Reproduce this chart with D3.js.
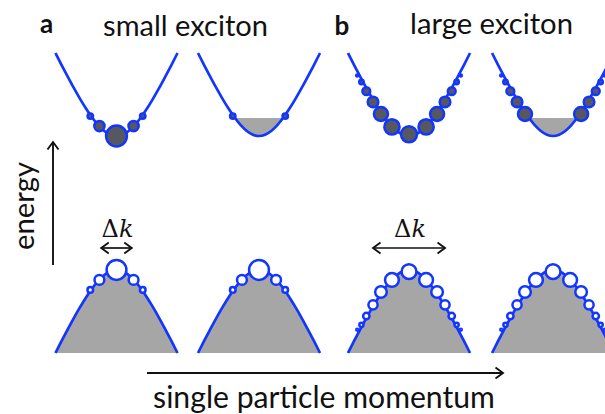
<!DOCTYPE html>
<html>
<head>
<meta charset="utf-8">
<script src="https://cdn.jsdelivr.net/npm/d3@7"></script>
<style>
  html, body { margin: 0; padding: 0; background: #fff; }
  svg { display: block; }
</style>
</head>
<body>
<svg id="fig" width="605" height="414"></svg>
<script>
// Band dispersion, normalised: 0 at the band edge, 1 at the end of the drawn band
const bandK = [-1, -0.9, -0.8, -0.7, -0.6, -0.5, -0.4, -0.3, -0.2, -0.1, 0,
               0.1, 0.2, 0.3, 0.4, 0.5, 0.6, 0.7, 0.8, 0.9, 1];
const bandE = [1, 0.855, 0.715, 0.579, 0.451, 0.331, 0.223, 0.132, 0.061, 0.016, 0,
               0.016, 0.061, 0.132, 0.223, 0.331, 0.451, 0.579, 0.715, 0.855, 1];

// Conduction band minimum above the valence band maximum, and the filled level
const bandGap = 1.614;
const fermiLevel = 0.217;

// Four band diagrams along the momentum axis
const panelCentres = [0, 2.336, 4.795, 7.156];
const panelExciton = ["small", "small", "large", "large"];
const panelFilled = [false, true, false, true];

const groupLetters = ["a", "b"];
const groupTitles = ["small exciton", "large exciton"];

// Exciton components: momentum, energy from the band edge, weight (circle radius)
const smallK     = [-0.43, -0.28, 0, 0.28, 0.43];
const smallCondE = [0.24, 0.12, 0, 0.12, 0.24];
const smallCondR = [2.7, 5.1, 10.4, 5.1, 2.7];
const smallValE  = [0.24, 0.12, 0, 0.12, 0.24];
const smallValR  = [2.8, 4.9, 9.9, 4.9, 2.8];

const largeK     = [-0.85, -0.78, -0.70, -0.59, -0.46, -0.28, 0, 0.28, 0.46, 0.59, 0.70, 0.78, 0.85];
const largeCondE = [0.73, 0.65, 0.54, 0.41, 0.265, 0.11, 0.02, 0.11, 0.265, 0.41, 0.54, 0.65, 0.73];
const largeCondR = [1.0, 2.2, 3.9, 5.3, 7.0, 7.6, 8.0, 7.6, 7.0, 5.3, 3.9, 2.2, 1.0];
const largeValE  = [0.72, 0.66, 0.555, 0.42, 0.265, 0.12, 0.02, 0.12, 0.265, 0.42, 0.555, 0.66, 0.72];
const largeValR  = [0.9, 2.1, 3.2, 4.6, 5.8, 6.9, 7.4, 6.9, 5.8, 4.6, 3.2, 2.1, 0.9];

// Momentum spread of each exciton
const deltaK = [0.5, 1.18];

const excitons = {
  small: { k: smallK, condE: smallCondE, condR: smallCondR, valE: smallValE, valR: smallValR },
  large: { k: largeK, condE: largeCondE, condR: largeCondR, valE: largeValE, valR: largeValR }
};

const BLUE = "#1236ff";
const DARK = "#55585f";
const GREY = "#a6a6a6";

const svg = d3.select("#fig");

const x = d3.scaleLinear().domain([-1, 8.16]).range([55.5, 614.3]);
const y = d3.scaleLinear().domain([-1, bandGap + 1]).range([353, 53]);

const band = bandK.map((k, i) => ({ k, e: bandE[i] }));

const defs = svg.append("defs");

panelCentres.forEach((c, i) => {
  const g = svg.append("g");
  const px = k => x(c + k);
  const ex = excitons[panelExciton[i]];

  // valence band: filled below the dispersion
  g.append("path")
    .datum(band)
    .attr("fill", GREY)
    .attr("d", d3.area().curve(d3.curveMonotoneX)
      .x(d => px(d.k)).y0(y(-1)).y1(d => y(-d.e)));
  g.append("path")
    .datum(band)
    .attr("fill", "none").attr("stroke", BLUE).attr("stroke-width", 2.7)
    .attr("d", d3.line().curve(d3.curveMonotoneX)
      .x(d => px(d.k)).y(d => y(-d.e)));

  // conduction band: occupied states up to the filled level
  if (panelFilled[i]) {
    const id = "cb" + i;
    defs.append("clipPath").attr("id", id)
      .append("path").datum(band)
      .attr("d", d3.area().curve(d3.curveMonotoneX)
        .x(d => px(d.k)).y0(y(bandGap + 1)).y1(d => y(bandGap + d.e)));
    g.append("rect")
      .attr("clip-path", `url(#${id})`)
      .attr("x", px(-1)).attr("width", px(1) - px(-1))
      .attr("y", y(bandGap + fermiLevel))
      .attr("height", y(bandGap - 0.1) - y(bandGap + fermiLevel))
      .attr("fill", GREY);
  }
  g.append("path")
    .datum(band)
    .attr("fill", "none").attr("stroke", BLUE).attr("stroke-width", 2.7)
    .attr("d", d3.line().curve(d3.curveMonotoneX)
      .x(d => px(d.k)).y(d => y(bandGap + d.e)));

  // hole components in the valence band
  g.selectAll("circle.hole")
    .data(ex.k.map((k, j) => ({ k, e: ex.valE[j], r: ex.valR[j] })))
    .join("circle").attr("class", "hole")
    .attr("cx", d => px(d.k)).attr("cy", d => y(-d.e)).attr("r", d => d.r)
    .attr("fill", "#fff").attr("stroke", BLUE).attr("stroke-width", 2.5);

  // electron components in the conduction band (blocked below the filled level)
  const elec = ex.k.map((k, j) => ({ k, e: ex.condE[j], r: ex.condR[j] }))
    .filter(d => !panelFilled[i] || d.e > fermiLevel);
  g.selectAll("circle.elec")
    .data(elec)
    .join("circle").attr("class", "elec")
    .attr("cx", d => px(d.k)).attr("cy", d => y(bandGap + d.e)).attr("r", d => d.r)
    .attr("fill", DARK).attr("stroke", BLUE).attr("stroke-width", 2.5);
});

// fit a label to a given width
function fitWidth(sel, w) {
  const fs = parseFloat(sel.attr("font-size"));
  const L = sel.node().getComputedTextLength();
  if (L > 0) sel.attr("font-size", fs * w / L);
  return sel;
}

const SANS = "Lato, 'Open Sans', sans-serif";

// group letters and titles
const letterX = [46.5, 342];
const letterY = [33, 35];
const titleX = [185.5, 491.5];
const titleY = [36, 34];
const titleW = [165, 163];
groupLetters.forEach((l, i) => {
  svg.append("text").text(l)
    .attr("x", letterX[i]).attr("y", letterY[i])
    .attr("text-anchor", "middle")
    .attr("font-family", SANS).attr("font-weight", 700).attr("font-size", 26)
    .attr("fill", "#111");
  fitWidth(svg.append("text").text(groupTitles[i])
    .attr("x", titleX[i]).attr("y", titleY[i])
    .attr("text-anchor", "middle")
    .attr("font-family", SANS).attr("font-size", 26)
    .attr("fill", "#111"), titleW[i]);
});

// arrowhead chevron
function chevron(g, tipX, tipY, angle) {
  const len = 7.5, half = 5.5;
  const a = angle * Math.PI / 180;
  const bx = -Math.cos(a) * len, by = -Math.sin(a) * len;
  const nx = -Math.sin(a) * half, ny = Math.cos(a) * half;
  g.append("path")
    .attr("d", `M${tipX + bx + nx},${tipY + by + ny}L${tipX},${tipY}L${tipX + bx - nx},${tipY + by - ny}`)
    .attr("fill", "none").attr("stroke", "#111").attr("stroke-width", 1.9)
    .attr("stroke-linejoin", "miter");
}

const axes = svg.append("g");

// energy axis
axes.append("line").attr("x1", 53).attr("x2", 53).attr("y1", 265).attr("y2", 143)
  .attr("stroke", "#111").attr("stroke-width", 1.9);
chevron(axes, 53, 142, -90);
fitWidth(axes.append("text").text("energy")
  .attr("transform", "translate(34,206) rotate(-90)")
  .attr("text-anchor", "middle")
  .attr("font-family", SANS).attr("font-size", 26).attr("fill", "#111"), 88);

// momentum axis
axes.append("line").attr("x1", 147).attr("x2", 502).attr("y1", 373).attr("y2", 373)
  .attr("stroke", "#111").attr("stroke-width", 1.9);
chevron(axes, 503, 373, 0);
fitWidth(axes.append("text").text("single particle momentum")
  .attr("x", 324).attr("y", 408)
  .attr("text-anchor", "middle")
  .attr("font-family", SANS).attr("font-size", 28).attr("fill", "#111"), 342);

// momentum spread markers
const spreadPanels = [0, 2];
spreadPanels.forEach((p, i) => {
  const c = panelCentres[p];
  const x0 = x(c - deltaK[i] / 2), x1 = x(c + deltaK[i] / 2);
  const yy = 248;
  axes.append("line").attr("x1", x0 + 1).attr("x2", x1 - 1).attr("y1", yy).attr("y2", yy)
    .attr("stroke", "#111").attr("stroke-width", 1.7);
  chevron(axes, x0, yy, 180);
  chevron(axes, x1, yy, 0);
  const t = axes.append("text")
    .attr("x", (x0 + x1) / 2 + 1).attr("y", 237)
    .attr("text-anchor", "middle")
    .attr("font-family", "'DejaVu Serif', 'Liberation Serif', serif")
    .attr("font-size", 24).attr("fill", "#111");
  t.append("tspan").text("Δ");
  t.append("tspan").attr("font-style", "italic").text("k");
});
</script>
</body>
</html>
